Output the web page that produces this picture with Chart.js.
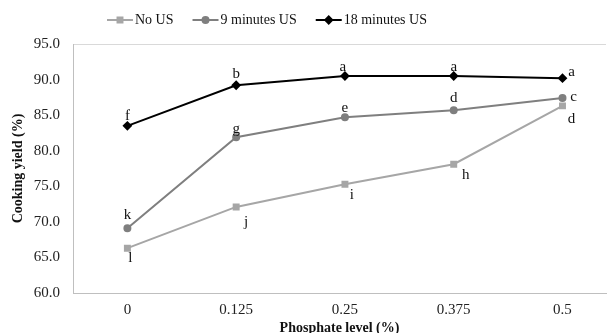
<!DOCTYPE html>
<html>
<head>
<meta charset="utf-8">
<script src="https://cdn.jsdelivr.net/npm/chart.js@4"></script>
<style>
  html, body { margin: 0; padding: 0; background: #fff; }
  #wrap { width: 612px; height: 333px; }
</style>
</head>
<body>
<div id="wrap"><canvas id="chart"></canvas></div>
<script>
// ---------- DATA ----------
const phosphate = [0, 0.125, 0.25, 0.375, 0.5];
const xTickLabels = ["0", "0.125", "0.25", "0.375", "0.5"];
const yTicks = [60, 65, 70, 75, 80, 85, 90, 95];

const noUS = [66.3, 72.1, 75.3, 78.1, 86.3];
const us9 = [69.1, 81.9, 84.7, 85.7, 87.4];
const us18 = [83.5, 89.2, 90.5, 90.5, 90.2];

const lettersNoUS = ["l", "j", "i", "h", "d"];
const letters9 = ["k", "g", "e", "d", "c"];
const letters18 = ["f", "b", "a", "a", "a"];

// label offsets (px) per point: [dx, dy]
const offNoUS = [[3, 10], [10, 15], [7, 11], [12, 11], [9, 13]];
const off9 = [[0, -13], [0, -8], [0, -9], [0, -12], [11, -1]];
const off18 = [[0, -10], [0, -11], [-2, -9], [0, -9], [9, -6]];

const serif = "'Liberation Serif', 'Times New Roman', serif";

const toXY = arr => arr.map((v, i) => ({ x: phosphate[i], y: v }));

// ---------- PLUGINS ----------
const letterPlugin = {
  id: "letters",
  afterDatasetsDraw(chart) {
    const ctx = chart.ctx;
    ctx.save();
    ctx.font = "15px " + serif;
    ctx.fillStyle = "#111";
    ctx.textAlign = "center";
    ctx.textBaseline = "middle";
    chart.data.datasets.forEach((ds, di) => {
      const meta = chart.getDatasetMeta(di);
      meta.data.forEach((pt, i) => {
        const o = ds.labelOffsets[i];
        ctx.fillText(ds.letters[i], pt.x + o[0], pt.y + o[1]);
      });
    });
    ctx.restore();
  }
};

const legendPlugin = {
  id: "lineLegend",
  afterDraw(chart) {
    const ctx = chart.ctx;
    ctx.save();
    ctx.font = "14px " + serif;
    ctx.textBaseline = "middle";
    let x = 107;
    const y = 20;
    chart.data.datasets.forEach(ds => {
      ctx.strokeStyle = ds.borderColor;
      ctx.lineWidth = 2;
      ctx.beginPath();
      ctx.moveTo(x, y);
      ctx.lineTo(x + 26, y);
      ctx.stroke();
      Chart.helpers.drawPoint(ctx, {
        pointStyle: ds.pointStyle,
        radius: ds.pointRadius,
        rotation: 0,
        borderWidth: 1
      }, x + 13, y);
      ctx.fillStyle = ds.pointBackgroundColor;
      ctx.strokeStyle = ds.pointBorderColor;
      ctx.fill();
      ctx.fillStyle = "#111";
      ctx.fillText(ds.label, x + 28, y);
      x += 28 + ctx.measureText(ds.label).width + 19;
    });
    ctx.restore();
  }
};

// ---------- CHART ----------
new Chart(document.getElementById("chart"), {
  type: "line",
  data: {
    datasets: [
      {
        label: "No US",
        data: toXY(noUS),
        letters: lettersNoUS,
        labelOffsets: offNoUS,
        borderColor: "#a6a6a6",
        backgroundColor: "#a6a6a6",
        pointBackgroundColor: "#a6a6a6",
        pointBorderColor: "#a6a6a6",
        pointStyle: "rect",
        pointRadius: 3.5,
        borderWidth: 2
      },
      {
        label: "9 minutes US",
        data: toXY(us9),
        letters: letters9,
        labelOffsets: off9,
        borderColor: "#7f7f7f",
        backgroundColor: "#7f7f7f",
        pointBackgroundColor: "#7f7f7f",
        pointBorderColor: "#7f7f7f",
        pointStyle: "circle",
        pointRadius: 3,
        borderWidth: 2
      },
      {
        label: "18 minutes US",
        data: toXY(us18),
        letters: letters18,
        labelOffsets: off18,
        borderColor: "#000000",
        backgroundColor: "#000000",
        pointBackgroundColor: "#000000",
        pointBorderColor: "#000000",
        pointStyle: "rectRot",
        pointRadius: 3.5,
        borderWidth: 2
      }
    ]
  },
  options: {
    responsive: true,
    maintainAspectRatio: false,
    animation: false,
    layout: { padding: { top: 44, right: 0, left: 0, bottom: 0 } },
    scales: {
      x: {
        type: "linear",
        min: -0.0625,
        max: 0.55,
        afterBuildTicks: s => { s.ticks = phosphate.map(v => ({ value: v })); },
        afterFit: s => { s.height = 40; },
        grid: { display: false, drawTicks: false },
        border: { color: "#bfbfbf", width: 1 },
        ticks: {
          color: "#222",
          font: { family: serif, size: 15 },
          padding: 8,
          callback: (v, i) => xTickLabels[i]
        },
        title: {
          display: true,
          text: "Phosphate level (%)",
          color: "#111",
          font: { family: serif, size: 14, weight: "bold", lineHeight: 0.6 },
          padding: { top: 0, bottom: 0 }
        }
      },
      y: {
        min: 60,
        max: 95,
        afterBuildTicks: s => { s.ticks = yTicks.map(v => ({ value: v })); },
        afterFit: s => { s.width = 73; },
        grid: {
          drawTicks: false,
          color: c => (c.tick.value === 95 ? "#d9d9d9" : "rgba(0,0,0,0)")
        },
        border: { color: "#bfbfbf", width: 1 },
        ticks: {
          color: "#222",
          font: { family: serif, size: 15 },
          padding: 13,
          callback: v => v.toFixed(1)
        },
        title: {
          display: true,
          text: "Cooking yield (%)",
          color: "#111",
          font: { family: serif, size: 14, weight: "bold" },
          padding: { top: 10, bottom: 0 }
        }
      }
    },
    plugins: {
      legend: { display: false },
      tooltip: { enabled: false }
    }
  },
  plugins: [letterPlugin, legendPlugin]
});
</script>
</body>
</html>
